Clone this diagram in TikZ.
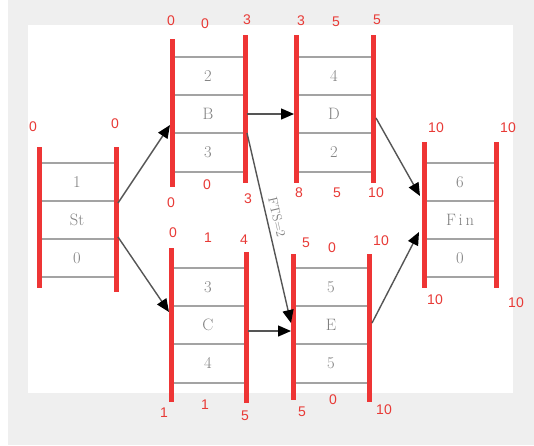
\documentclass[tikz,border=0pt]{standalone}
\usepackage{fontspec}
\newfontfamily\labfont{Liberation Sans}
\usetikzlibrary{arrows.meta}
\definecolor{bgc}{HTML}{EFEFEF}
\definecolor{redc}{HTML}{EE3535}
\definecolor{rowc}{HTML}{A3A3A3}
\definecolor{txtc}{HTML}{808080}
\definecolor{labc}{HTML}{E83A36}
\definecolor{arrc}{HTML}{555555}
\tikzset{
  redbar/.style={line width=5pt, draw=redc},
  rowline/.style={line width=1.6pt, draw=rowc},
  cell/.style={font=\fontsize{16.5}{16.5}\selectfont, text=txtc, inner sep=0pt},
  lab/.style={font=\labfont\fontsize{14}{14}\selectfont, text=labc, inner sep=0pt},
  conn/.style={line width=1.4pt, draw=arrc, -{Triangle[length=13pt,width=11pt,color=black]}},
}
\begin{document}
\begin{tikzpicture}[x=1pt,y=-1pt]
\useasboundingbox (0,0) rectangle (534,445);
\fill[bgc] (8,0) rectangle (534,445);
\fill[white] (28,25) rectangle (513,393);

% ---------- St ----------
\foreach \y in {163,201,239,277} \draw[rowline] (41,\y) -- (114,\y);
\draw[redbar] (39,147) -- (39,288);
\draw[redbar] (116,147) -- (116,292);
\node[cell] (St1) at (77,182) {1};
\node[cell] (St2) at (77,220) {St};
\node[cell] (St3) at (77,258) {0};
\coordinate (StA) at (118,203);
\coordinate (StB) at (118,237);

% ---------- B ----------
\foreach \y in {57,95,133,172} \draw[rowline] (174,\y) -- (243,\y);
\draw[redbar] (172,39) -- (172,187);
\draw[redbar] (245,35) -- (245,183);
\node[cell] (B1) at (208,76) {2};
\node[cell] (B2) at (208,114) {B};
\node[cell] (B3) at (208,152) {3};
\coordinate (BIn) at (170,125);
\coordinate (BOutA) at (247,114);
\coordinate (BOutB) at (247,133);

% ---------- D ----------
\foreach \y in {57,95,133,172} \draw[rowline] (298,\y) -- (371,\y);
\draw[redbar] (296,35) -- (296,183);
\draw[redbar] (373,35) -- (373,183);
\node[cell] (D1) at (334,76) {4};
\node[cell] (D2) at (334,114) {D};
\node[cell] (D3) at (334,152) {2};
\coordinate (DIn) at (294,114);
\coordinate (DOut) at (376,118);

% ---------- C ----------
\foreach \y in {268,306,344,383} \draw[rowline] (173,\y) -- (244,\y);
\draw[redbar] (171,248) -- (171,402);
\draw[redbar] (246,252) -- (246,403);
\node[cell] (C1) at (208,287) {3};
\node[cell] (C2) at (208,325) {C};
\node[cell] (C3) at (208,363) {4};
\coordinate (CIn) at (169,312);
\coordinate (COut) at (248,331);

% ---------- E ----------
\foreach \y in {268,306,344,383} \draw[rowline] (295,\y) -- (367,\y);
\draw[redbar] (293,254) -- (293,400);
\draw[redbar] (369,254) -- (369,402);
\node[cell] (E1) at (331,287) {5};
\node[cell] (E2) at (331,325) {E};
\node[cell] (E3) at (331,363) {5};
\coordinate (EInA) at (291,331);
\coordinate (EInB) at (291,323);
\coordinate (EOut) at (372,323);

% ---------- Fin ----------
\foreach \y in {163,201,239,277} \draw[rowline] (426,\y) -- (494,\y);
\draw[redbar] (424,142) -- (424,288);
\draw[redbar] (496,142) -- (496,288);
\node[cell] (F1) at (460,182) {6};
\node[cell] (F2) at (460,220) {F\,i\,n};
\node[cell] (F3) at (460,258) {0};
\coordinate (FInA) at (420,196);
\coordinate (FInB) at (419,232);

% ---------- connectors ----------
\draw[conn] (StA) -- (BIn);
\draw[conn] (StB) -- (CIn);
\draw[conn] (BOutA) -- (DIn);
\draw[conn] (BOutB) -- (EInB);
\draw[conn] (COut) -- (EInA);
\draw[conn] (DOut) -- (FInA);
\draw[conn] (EOut) -- (FInB);
\node[cell, font=\fontsize{13}{13}\selectfont, rotate=-77] (fts) at (277,217) {FTS=2};

% ---------- red labels ----------
\node[lab] (l1) at (33,127) {0};
\node[lab] (l2) at (115,124) {0};
\node[lab] (l3) at (171,21) {0};
\node[lab] (l4) at (205,24) {0};
\node[lab] (l5) at (247,20) {3};
\node[lab] (l6) at (207,185) {0};
\node[lab] (l7) at (171,203) {0};
\node[lab] (l8) at (248,199) {3};
\node[lab] (l9) at (301,21) {3};
\node[lab] (l10) at (336,22) {5};
\node[lab] (l11) at (377,20) {5};
\node[lab] (l12) at (299,193) {8};
\node[lab] (l13) at (337,193) {5};
\node[lab] (l14) at (376,193) {10};
\node[lab] (l15) at (436,128) {10};
\node[lab] (l16) at (508,128) {10};
\node[lab] (l17) at (435,300) {10};
\node[lab] (l18) at (516,303) {10};
\node[lab] (l19) at (173,233) {0};
\node[lab] (l20) at (208,238) {1};
\node[lab] (l21) at (244,240) {4};
\node[lab] (l22) at (164,413) {1};
\node[lab] (l23) at (205,405) {1};
\node[lab] (l24) at (245,416) {5};
\node[lab] (l25) at (306,243) {5};
\node[lab] (l26) at (332,248) {0};
\node[lab] (l27) at (381,241) {10};
\node[lab] (l28) at (302,412) {5};
\node[lab] (l29) at (333,400) {0};
\node[lab] (l30) at (384,410) {10};
\end{tikzpicture}
\end{document}
